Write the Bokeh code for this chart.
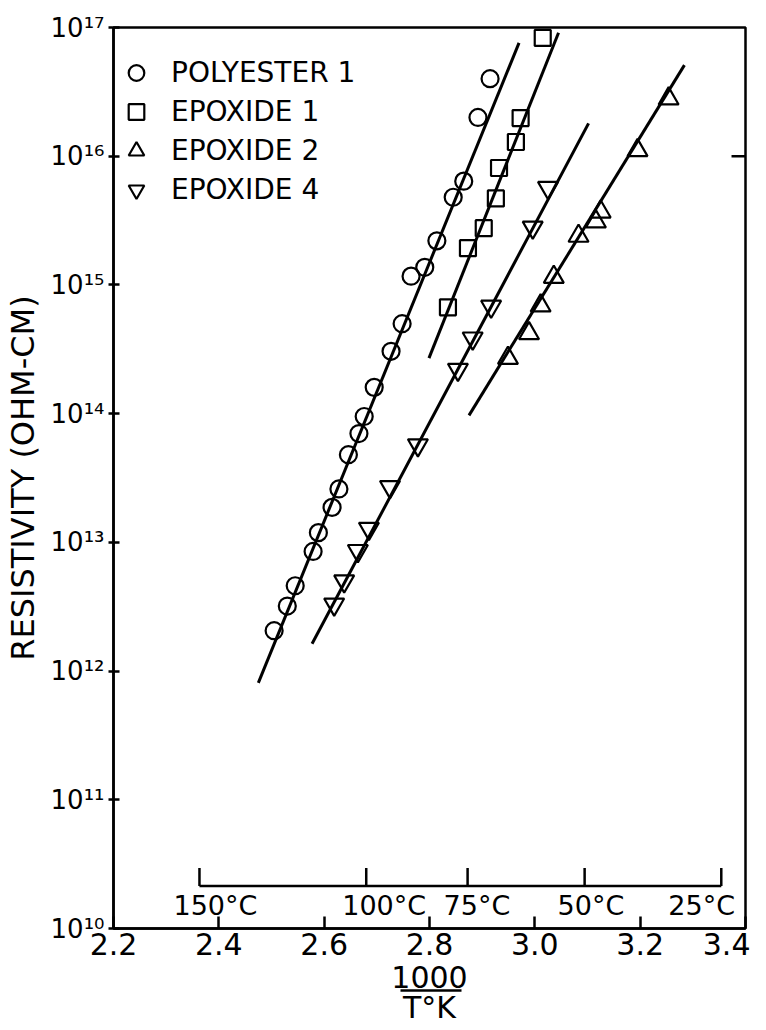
from bokeh.plotting import figure
from bokeh.models import (FixedTicker, CustomJSTickFormatter, Legend, LegendItem,
                          LinearAxis, ColumnDataSource)
from bokeh.core.properties import value
from bokeh.embed import file_html
from bokeh.resources import INLINE

FONT = "DejaVu Sans"

# ---------------- data ----------------
poly_x = [2.505, 2.530, 2.545, 2.579, 2.589, 2.615, 2.628, 2.646, 2.666, 2.676,
          2.695, 2.727, 2.748, 2.765, 2.791, 2.814, 2.845, 2.865, 2.892, 2.915]
poly_y = [2.06e12, 3.2e12, 4.6e12, 8.5e12, 1.19e13, 1.87e13, 2.6e13, 4.8e13, 7.0e13, 9.5e13,
          1.6e14, 3.05e14, 5.0e14, 1.17e15, 1.37e15, 2.2e15, 4.8e15, 6.4e15, 2.0e16, 4.0e16]
poly_fit_x = [2.475, 2.970]
poly_fit_y = [8.1e11, 7.6e16]

epo1_x = [2.835, 2.873, 2.903, 2.926, 2.932, 2.964, 2.973, 3.015]
epo1_y = [6.7e14, 1.93e15, 2.76e15, 4.7e15, 8.1e15, 1.29e16, 1.98e16, 8.3e16]
epo1_fit_x = [2.799, 3.045]
epo1_fit_y = [2.7e14, 9.1e16]

epo2_x = [2.949, 2.989, 3.011, 3.036, 3.083, 3.116, 3.125, 3.195, 3.254]
epo2_y = [2.7e14, 4.2e14, 6.9e14, 1.15e15, 2.4e15, 3.1e15, 3.7e15, 1.11e16, 2.8e16]
epo2_fit_x = [2.875, 3.284]
epo2_fit_y = [9.7e13, 5.1e16]

epo4_x = [2.619, 2.638, 2.664, 2.685, 2.725, 2.778, 2.854, 2.882, 2.917, 2.996, 3.025]
epo4_y = [3.3e12, 5.0e12, 8.6e12, 1.28e13, 2.7e13, 5.7e13, 2.2e14, 3.85e14, 6.8e14, 2.8e15, 5.7e15]
epo4_fit_x = [2.577, 3.102]
epo4_fit_y = [1.63e12, 1.8e16]

series_labels = ["POLYESTER 1", "EPOXIDE 1", "EPOXIDE 2", "EPOXIDE 4"]

x_ticks = [2.2, 2.4, 2.6, 2.8, 3.0, 3.2, 3.4]
x_tick_labels = ["2.2", "2.4", "2.6", "2.8", "3.0", "3.2", "3.4"]
y_ticks = [1e10, 1e11, 1e12, 1e13, 1e14, 1e15, 1e16, 1e17]
y_tick_labels = ["10¹⁰", "10¹¹", "10¹²", "10¹³", "10¹⁴", "10¹⁵", "10¹⁶", "10¹⁷"]
right_tick_y = [1e16]

temps_c = [150, 100, 75, 50, 25]
temp_labels = ["150°C", "100°C", "75°C", "50°C", "25°C"]
temp_label_dx = [-26, -24, -24, -27, -53]
temp_axis_y = 2.14e10
temp_tick_top = 2.95e10
temp_label_y = 1.5e10

y_label = "RESISTIVITY (OHM-CM)"
x_label_num = "1000"
x_label_den = "T°K"
fraction_bar = (2.745, 2.860)

# ---------------- figure ----------------
p = figure(width=750, height=1030, x_range=(2.2, 3.4), y_range=(1e10, 1e17),
           y_axis_type="log", output_backend="svg", toolbar_location=None,
           min_border_left=112, min_border_right=5, min_border_top=27, min_border_bottom=102)
p.xgrid.visible = False
p.ygrid.visible = False
p.background_fill_color = "white"
p.border_fill_color = "white"
p.outline_line_color = "black"
p.outline_line_width = 2.5
p.outline_line_alpha = 1.0

fmt_log = """
let best = 0, bd = 1e99;
for (let i = 0; i < tvals.length; i++) {
  const d = Math.abs(Math.log10(tvals[i]) - Math.log10(tick));
  if (d < bd) { bd = d; best = i; }
}
return labels[best];
"""
fmt_lin = """
let best = 0, bd = 1e99;
for (let i = 0; i < tvals.length; i++) {
  const d = Math.abs(tvals[i] - tick);
  if (d < bd) { bd = d; best = i; }
}
return labels[best];
"""

xa = p.xaxis[0]
xa.ticker = FixedTicker(ticks=x_ticks)
xa.formatter = CustomJSTickFormatter(args=dict(tvals=x_ticks, labels=x_tick_labels), code=fmt_lin)
xa.minor_tick_line_color = None
xa.major_tick_in = 12
xa.major_tick_out = 0
xa.major_tick_line_width = 2.5
xa.axis_line_width = 2.5
xa.major_label_standoff = 4
xa.major_label_text_font = FONT
xa.major_label_text_font_size = "30px"
xa.major_label_text_color = "black"
xa.axis_label = x_label_num
xa.axis_label_text_font = FONT
xa.axis_label_text_font_size = "30px"
xa.axis_label_text_font_style = "normal"
xa.axis_label_text_color = "black"
xa.axis_label_standoff = 8

# second bottom axis: its short line is the fraction bar, its label the denominator
xa2 = LinearAxis(ticker=FixedTicker(ticks=[]), bounds=fraction_bar,
                 major_tick_in=0, major_tick_out=0, minor_tick_in=0, minor_tick_out=0,
                 minor_tick_line_color=None, major_tick_line_color=None,
                 major_label_standoff=0, axis_line_width=2.5, axis_line_color="black",
                 axis_label=x_label_den, axis_label_text_font=FONT,
                 axis_label_text_font_size="30px", axis_label_text_font_style="normal",
                 axis_label_text_color="black", axis_label_standoff=-1)
p.add_layout(xa2, "below")

ya = p.yaxis[0]
ya.ticker = FixedTicker(ticks=y_ticks)
ya.formatter = CustomJSTickFormatter(args=dict(tvals=y_ticks, labels=y_tick_labels), code=fmt_log)
ya.minor_tick_line_color = None
ya.major_tick_in = 6
ya.major_tick_out = 5
ya.major_tick_line_width = 2.5
ya.axis_line_width = 2.5
ya.major_label_standoff = 4
ya.major_label_text_font = FONT
ya.major_label_text_font_size = "26px"
ya.major_label_text_color = "black"
ya.axis_label = y_label
ya.axis_label_text_font = FONT
ya.axis_label_text_font_size = "32px"
ya.axis_label_text_font_style = "normal"
ya.axis_label_text_color = "black"
ya.axis_label_standoff = 6

# fitted lines
for fx, fy in [(poly_fit_x, poly_fit_y), (epo1_fit_x, epo1_fit_y),
               (epo2_fit_x, epo2_fit_y), (epo4_fit_x, epo4_fit_y)]:
    p.line(fx, fy, line_color="black", line_width=3)

mk = dict(fill_alpha=0, line_color="black", line_width=2.2)
r_poly = p.scatter(poly_x, poly_y, marker="circle", size=17, **mk)
r_e1 = p.scatter(epo1_x, epo1_y, marker="square", size=16, **mk)
r_e2 = p.scatter(epo2_x, epo2_y, marker="triangle", size=20, **mk)
r_e4 = p.scatter(epo4_x, epo4_y, marker="inverted_triangle", size=20, **mk)

legend = Legend(items=[LegendItem(label=series_labels[0], renderers=[r_poly]),
                       LegendItem(label=series_labels[1], renderers=[r_e1]),
                       LegendItem(label=series_labels[2], renderers=[r_e2]),
                       LegendItem(label=series_labels[3], renderers=[r_e4])],
                location=(3, 719), glyph_width=40, glyph_height=39, label_height=39,
                label_standoff=15, spacing=0, padding=0, margin=0,
                border_line_color=None, background_fill_alpha=0,
                label_text_font=FONT, label_text_font_size="28px", label_text_color="black")
p.add_layout(legend)

# right-hand frame tick
p.segment(x0=[3.4 - 14 / 527.5], x1=[3.4], y0=right_tick_y, y1=right_tick_y,
          line_color="black", line_width=2.5)

# inner temperature scale
temp_x = [1000.0 / (t + 273.15) for t in temps_c]
p.segment(x0=[min(temp_x)], x1=[max(temp_x)], y0=[temp_axis_y], y1=[temp_axis_y],
          line_color="black", line_width=2.5)
p.segment(x0=temp_x, x1=temp_x, y0=[temp_axis_y] * len(temp_x), y1=[temp_tick_top] * len(temp_x),
          line_color="black", line_width=2.5)
tsrc = ColumnDataSource(dict(x=temp_x, y=[temp_label_y] * len(temp_x), text=temp_labels, dx=temp_label_dx))
p.text(x="x", y="y", text="text", x_offset="dx", source=tsrc, text_align="left",
       text_baseline="middle", text_font=value(FONT), text_font_size="27px", text_color="black")

open("out.html", "w").write(file_html(p, INLINE))
